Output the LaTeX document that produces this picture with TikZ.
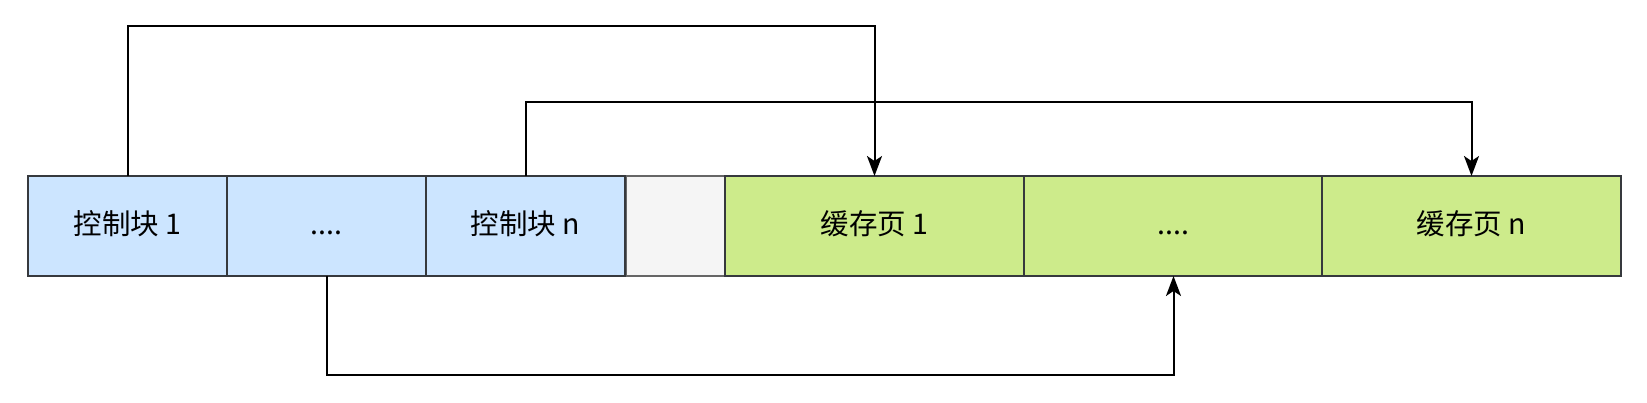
\documentclass[tikz,border=0pt]{standalone}
\usepackage{fontspec}
\setmainfont{Noto Sans CJK SC}
\usetikzlibrary{arrows.meta}
\definecolor{blueF}{HTML}{CCE5FF}
\definecolor{greenF}{HTML}{CDEB8B}
\definecolor{grayF}{HTML}{F5F5F5}
\definecolor{darkS}{HTML}{36393D}
\definecolor{grayS}{HTML}{666666}
\tikzset{
  cell/.style={draw=darkS, line width=2pt, rectangle, inner sep=0pt, outer sep=0pt,
    minimum height=100pt, anchor=north west, text height=23pt, text depth=5pt,
    font=\fontsize{28.5}{34}\selectfont},
  blue cell/.style={cell, fill=blueF, minimum width=199pt},
  green cell/.style={cell, fill=greenF, minimum width=299pt},
  gray cell/.style={cell, fill=grayF, draw=grayS, minimum width=99pt},
  link/.style={draw=black, line width=2pt, -{Stealth[length=20pt, width=15pt, inset=5pt]}},
}
\begin{document}
\begin{tikzpicture}[x=1pt, y=-1pt]
\useasboundingbox (0,0) rectangle (1647,403);
\node[gray cell] (gap) at (626,176) {};
\node[blue cell] (b1) at (28,176) {控制块 1};
\node[blue cell] (b2) at (227,176) {....};
\node[blue cell] (b3) at (426,176) {控制块 n};
\node[green cell] (g1) at (725,176) {缓存页 1};
\node[green cell] (g2) at (1024,176) {....};
\node[green cell] (g3) at (1322,176) {缓存页 n};
\coordinate (top1) at (0,26);
\coordinate (top2) at (0,102);
\coordinate (bot) at (0,375);
\draw[link] (b1.north) -- (b1.north |- top1) -| (g1.north);
\draw[link] (b3.north) -- (b3.north |- top2) -| (g3.north);
\draw[link] (b2.south) -- (b2.south |- bot) -| (g2.south);
\end{tikzpicture}
\end{document}
